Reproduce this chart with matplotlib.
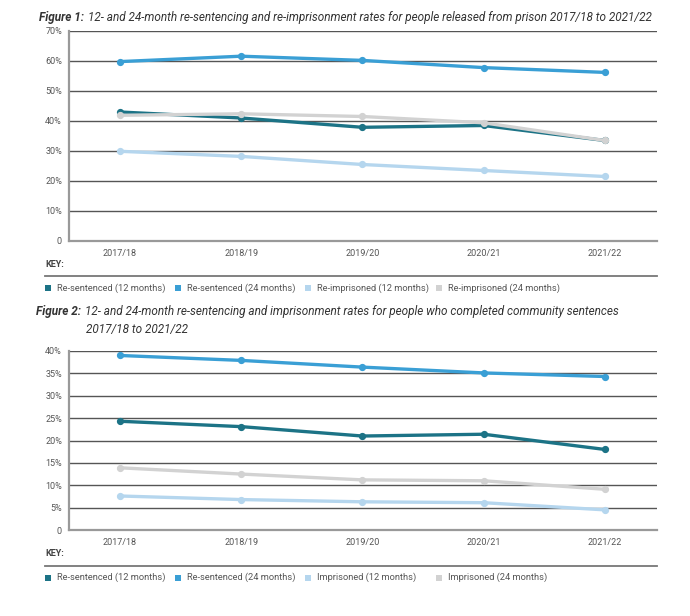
import numpy as np
import matplotlib.pyplot as plt
from matplotlib.patches import Rectangle
from matplotlib.lines import Line2D
from matplotlib.ticker import FuncFormatter

plt.rcParams['font.family'] = ['Roboto', 'DejaVu Sans']

years = ['2017/18', '2018/19', '2019/20', '2020/21', '2021/22']

# Figure 1 - released from prison
prison_resent12 = [43.0, 41.0, 37.9, 38.5, 33.5]
prison_resent24 = [59.8, 61.6, 60.2, 57.8, 56.2]
prison_reimp12 = [29.9, 28.2, 25.5, 23.5, 21.5]
prison_reimp24 = [41.9, 42.4, 41.5, 39.4, 33.5]

# Figure 2 - completed community sentences
comm_resent12 = [24.3, 23.1, 21.0, 21.4, 18.0]
comm_resent24 = [39.0, 37.9, 36.4, 35.1, 34.3]
comm_imp12 = [7.6, 6.8, 6.3, 6.1, 4.5]
comm_imp24 = [13.9, 12.5, 11.2, 11.0, 9.1]

labels1 = ['Re-sentenced (12 months)', 'Re-sentenced (24 months)',
           'Re-imprisoned (12 months)', 'Re-imprisoned (24 months)']
labels2 = ['Re-sentenced (12 months)', 'Re-sentenced (24 months)',
           'Imprisoned (12 months)', 'Imprisoned (24 months)']
colors = ['#1c7386', '#3a9fd5', '#b5d6ee', '#d2d2d2']

W, H = 690, 616
fig = plt.figure(figsize=(6.9, 6.16), dpi=100)

def fx(px):
    return px / W

def fy(py):
    return 1 - py / H

def make_axes(top, bottom, ymax, step, series, labels, key_y):
    ax = fig.add_axes([fx(69), fy(bottom), fx(657) - fx(69), fy(top) - fy(bottom)])
    x = np.arange(len(years))
    for s, c in zip(series, colors):
        ax.plot(x, s, color=c, lw=2.4, marker='o', ms=4.2, solid_capstyle='round', zorder=3)
    ax.set_xlim(-0.42, 4.43)
    ax.set_ylim(0, ymax)
    ticks = np.arange(0, ymax + 0.01, step)
    ax.set_yticks(ticks)
    ax.yaxis.set_major_formatter(FuncFormatter(lambda v, p: '0' if v == 0 else '%d%%' % v))
    ax.set_xticks(x)
    ax.set_xticklabels(years)
    for t in ticks[1:]:
        ax.axhline(t, color='#555555', lw=1.0, zorder=1)
    for side in ['top', 'right']:
        ax.spines[side].set_visible(False)
    ax.spines['left'].set_color('#999999')
    ax.spines['left'].set_linewidth(1.6)
    ax.spines['bottom'].set_color('#999999')
    ax.spines['bottom'].set_linewidth(1.6)
    ax.tick_params(length=0, labelsize=6.5, labelcolor='#555555')
    ax.tick_params(axis='y', pad=5)
    ax.tick_params(axis='x', pad=6)

    # key
    fig.text(fx(45), fy(key_y), 'KEY:', fontsize=6.5, fontweight='bold', color='#444444', va='center')
    fig.add_artist(Line2D([fx(45), fx(657)], [fy(key_y + 11.5), fy(key_y + 11.5)],
                          color='#777777', lw=1.3))
    sq_x = [45, 175, 305, 436]
    for i, (lab, c) in enumerate(zip(labels, colors)):
        ly = key_y + 23.5
        fig.add_artist(Rectangle((fx(sq_x[i]), fy(ly + 3)), fx(6), 6 / H, color=c, lw=0))
        fig.text(fx(sq_x[i] + 12), fy(ly), lab, fontsize=6.7, color='#555555', va='center')
    return ax

make_axes(31, 241, 70, 10, [prison_resent12, prison_resent24, prison_reimp12, prison_reimp24],
          labels1, 264.5)
make_axes(351, 530, 40, 5, [comm_resent12, comm_resent24, comm_imp12, comm_imp24],
          labels2, 554)

title_col = '#333333'

def title(x, y, bold, rest):
    t = fig.text(fx(x), fy(y), bold, fontsize=8.5, fontweight='bold', style='italic',
                 color=title_col, va='center')
    # rest of the title continues right after the bold part
    fig.add_artist(plt.Annotation(rest, xy=(1, 0.5), xycoords=t, xytext=(3, 0),
                                  textcoords='offset points', fontsize=8.5, style='italic',
                                  color=title_col, va='center'))

title(39, 17, 'Figure 1:',
      '12- and 24-month re-sentencing and re-imprisonment rates for people released from prison 2017/18 to 2021/22')
title(36, 312, 'Figure 2:',
      '12- and 24-month re-sentencing and imprisonment rates for people who completed community sentences')
fig.text(fx(86), fy(330), '2017/18 to 2021/22', fontsize=8.5, style='italic', color=title_col, va='center')

fig.savefig('out.png', dpi=100)
